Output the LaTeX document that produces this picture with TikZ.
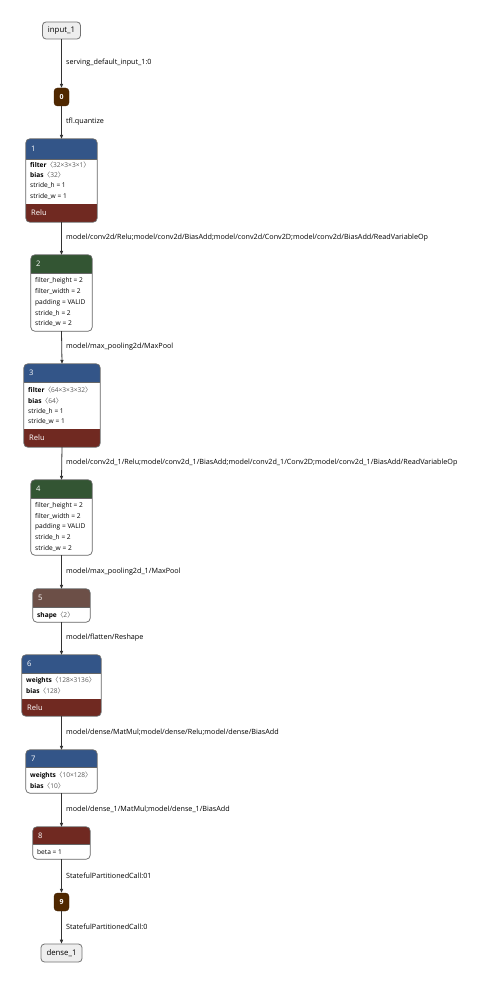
\documentclass[tikz,border=0pt]{standalone}
\usepackage{fontspec}
\setmainfont{Open Sans}
\newfontfamily\cjkf{Noto Sans CJK SC}
\usetikzlibrary{arrows.meta}
\definecolor{layer}{RGB}{51,85,136}
\definecolor{actv}{RGB}{112,41,33}
\definecolor{pool}{RGB}{51,85,51}
\definecolor{shp}{RGB}{108,79,71}
\definecolor{quant}{RGB}{80,40,0}
\definecolor{iofill}{RGB}{238,238,238}
\definecolor{valgray}{RGB}{90,90,90}
\newcommand\lb{{\cjkf 〈}}
\newcommand\rb{{\cjkf 〉}}
\tikzset{
  io/.style={draw=black!55, fill=iofill, rounded corners=3.5pt, line width=0.8pt, inner sep=0pt, font=\fontsize{7.8}{9}\selectfont},
  quantbox/.style={fill=quant, draw=quant!80!black, rounded corners=3.5pt, text=white, inner sep=0pt, font=\fontsize{7}{8}\selectfont\bfseries},
  frame/.style={inner sep=0pt, draw=none},
  border/.style={draw=black!60, line width=0.7pt, rounded corners=4pt},
  sep/.style={draw=black!60, line width=0.5pt},
  hdr/.style={anchor=west, text=white, inner sep=0pt, font=\fontsize{7.6}{9}\selectfont},
  attr/.style={anchor=west, inner sep=0pt, font=\fontsize{6.6}{7}\selectfont},
  elabel/.style={anchor=west, inner sep=0pt, font=\fontsize{7.2}{8}\selectfont},
  edge/.style={draw=black!80, line width=0.8pt, -{Triangle[length=4pt,width=3.2pt]}},
}
\newcommand\val[1]{{\color{valgray}#1}}
\begin{document}
\begin{tikzpicture}[x=1pt,y=-1pt]
\useasboundingbox[fill=white] (0,0) rectangle (482,984);

% input / output / quant nodes
\node[io, minimum width=38pt, minimum height=17pt] (in1) at (61.5,30.5) {input\_1};
\node[quantbox, minimum width=15pt, minimum height=18pt] (n0) at (61.5,97) {0};
\node[quantbox, minimum width=15pt, minimum height=18pt] (n9) at (61.5,902) {9};
\node[io, minimum width=41pt, minimum height=18pt] (out1) at (61.5,953) {dense\_1};

% ---- node 1
\node[frame, minimum width=71pt, minimum height=83pt] (n1) at (61.5,180.5) {};
\begin{scope}
\clip[rounded corners=4pt] (n1.north west) rectangle (n1.south east);
\fill[white] (n1.north west) rectangle (n1.south east);
\fill[layer] (n1.north west) rectangle (97,159);
\fill[actv] (26,204) rectangle (n1.south east);
\end{scope}
\draw[sep] (26,159) -- (97,159);
\draw[border] (n1.north west) rectangle (n1.south east);
\node[hdr] (n1h) at (31,149) {1};
\node[attr] (n1a) at (30,164.5) {\textbf{filter}\val{\lb32×3×3×1\rb}};
\node[attr] (n1b) at (30,175.3) {\textbf{bias}\val{\lb32\rb}};
\node[attr] (n1c) at (30,186) {stride\_h = 1};
\node[attr] (n1d) at (30,196.8) {stride\_w = 1};
\node[hdr] (n1r) at (31,213) {Relu};

% ---- node 2
\node[frame, minimum width=61pt, minimum height=76pt] (n2) at (61.5,293) {};
\begin{scope}
\clip[rounded corners=4pt] (n2.north west) rectangle (n2.south east);
\fill[white] (n2.north west) rectangle (n2.south east);
\fill[pool] (n2.north west) rectangle (92,273);
\end{scope}
\draw[sep] (31,273) -- (92,273);
\draw[border] (n2.north west) rectangle (n2.south east);
\node[hdr] (n2h) at (36,264) {2};
\node[attr] (n2a) at (35,281) {filter\_height = 2};
\node[attr] (n2b) at (35,291.7) {filter\_width = 2};
\node[attr] (n2c) at (35,302.4) {padding = VALID};
\node[attr] (n2d) at (35,313.1) {stride\_h = 2};
\node[attr] (n2e) at (35,323.8) {stride\_w = 2};

% ---- node 3
\node[frame, minimum width=76pt, minimum height=83pt] (n3) at (62,405.5) {};
\begin{scope}
\clip[rounded corners=4pt] (n3.north west) rectangle (n3.south east);
\fill[white] (n3.north west) rectangle (n3.south east);
\fill[layer] (n3.north west) rectangle (100,382);
\fill[actv] (24,429) rectangle (n3.south east);
\end{scope}
\draw[sep] (24,382) -- (100,382);
\draw[border] (n3.north west) rectangle (n3.south east);
\node[hdr] (n3h) at (29,373) {3};
\node[attr] (n3a) at (28,390) {\textbf{filter}\val{\lb64×3×3×32\rb}};
\node[attr] (n3b) at (28,400.5) {\textbf{bias}\val{\lb64\rb}};
\node[attr] (n3c) at (28,411) {stride\_h = 1};
\node[attr] (n3d) at (28,421.5) {stride\_w = 1};
\node[hdr] (n3r) at (29,438) {Relu};

% ---- node 4
\node[frame, minimum width=61pt, minimum height=75pt] (n4) at (61.5,517.5) {};
\begin{scope}
\clip[rounded corners=4pt] (n4.north west) rectangle (n4.south east);
\fill[white] (n4.north west) rectangle (n4.south east);
\fill[pool] (n4.north west) rectangle (92,498);
\end{scope}
\draw[sep] (31,498) -- (92,498);
\draw[border] (n4.north west) rectangle (n4.south east);
\node[hdr] (n4h) at (36,489) {4};
\node[attr] (n4a) at (35,505.5) {filter\_height = 2};
\node[attr] (n4b) at (35,516.2) {filter\_width = 2};
\node[attr] (n4c) at (35,526.9) {padding = VALID};
\node[attr] (n4d) at (35,537.6) {stride\_h = 2};
\node[attr] (n4e) at (35,548.3) {stride\_w = 2};

% ---- node 5
\node[frame, minimum width=57pt, minimum height=33pt] (n5) at (61.5,605.5) {};
\begin{scope}
\clip[rounded corners=4pt] (n5.north west) rectangle (n5.south east);
\fill[white] (n5.north west) rectangle (n5.south east);
\fill[shp] (n5.north west) rectangle (90,607);
\end{scope}
\draw[sep] (33,607) -- (90,607);
\draw[border] (n5.north west) rectangle (n5.south east);
\node[hdr] (n5h) at (38,598) {5};
\node[attr] (n5a) at (37,615) {\textbf{shape}\val{\lb2\rb}};

% ---- node 6
\node[frame, minimum width=79pt, minimum height=61pt] (n6) at (61.5,685.5) {};
\begin{scope}
\clip[rounded corners=4pt] (n6.north west) rectangle (n6.south east);
\fill[white] (n6.north west) rectangle (n6.south east);
\fill[layer] (n6.north west) rectangle (101,673);
\fill[actv] (22,699) rectangle (n6.south east);
\end{scope}
\draw[sep] (22,673) -- (101,673);
\draw[border] (n6.north west) rectangle (n6.south east);
\node[hdr] (n6h) at (27,664) {6};
\node[attr] (n6a) at (26,680.5) {\textbf{weights}\val{\lb128×3136\rb}};
\node[attr] (n6b) at (26,691.2) {\textbf{bias}\val{\lb128\rb}};
\node[hdr] (n6r) at (27,708) {Relu};

% ---- node 7
\node[frame, minimum width=71pt, minimum height=43pt] (n7) at (61.5,771.5) {};
\begin{scope}
\clip[rounded corners=4pt] (n7.north west) rectangle (n7.south east);
\fill[white] (n7.north west) rectangle (n7.south east);
\fill[layer] (n7.north west) rectangle (97,767);
\end{scope}
\draw[sep] (26,767) -- (97,767);
\draw[border] (n7.north west) rectangle (n7.south east);
\node[hdr] (n7h) at (31,758.5) {7};
\node[attr] (n7a) at (30,775.5) {\textbf{weights}\val{\lb10×128\rb}};
\node[attr] (n7b) at (30,786) {\textbf{bias}\val{\lb10\rb}};

% ---- node 8
\node[frame, minimum width=57pt, minimum height=32pt] (n8) at (61.5,843) {};
\begin{scope}
\clip[rounded corners=4pt] (n8.north west) rectangle (n8.south east);
\fill[white] (n8.north west) rectangle (n8.south east);
\fill[actv] (n8.north west) rectangle (90,844);
\end{scope}
\draw[sep] (33,844) -- (90,844);
\draw[border] (n8.north west) rectangle (n8.south east);
\node[hdr] (n8h) at (38,835.5) {8};
\node[attr] (n8a) at (37,852) {beta = 1};

% ---- edges
\draw[edge] (in1) -- (n0);
\draw[edge] (n0) -- (n1.north);
\draw[edge] (n1.south) -- (n2.north);
\draw[edge] (n2.south) -- (n3.north);
\draw[edge] (n3.south) -- (n4.north);
\draw[edge] (n4.south) -- (n5.north);
\draw[edge] (n5.south) -- (n6.north);
\draw[edge] (n6.south) -- (n7.north);
\draw[edge] (n7.south) -- (n8.north);
\draw[edge] (n8.south) -- (n9);
\draw[edge] (n9) -- (out1);

% ---- edge labels
\node[elabel] (e0) at (66,63) {serving\_default\_input\_1:0};
\node[elabel] (e1) at (66,122) {tfl.quantize};
\node[elabel] (e2) at (66,238) {model/conv2d/Relu;model/conv2d/BiasAdd;model/conv2d/Conv2D;model/conv2d/BiasAdd/ReadVariableOp};
\node[elabel] (e3) at (66,347) {model/max\_pooling2d/MaxPool};
\node[elabel] (e4) at (66,463) {model/conv2d\_1/Relu;model/conv2d\_1/BiasAdd;model/conv2d\_1/Conv2D;model/conv2d\_1/BiasAdd/ReadVariableOp};
\node[elabel] (e5) at (66,572) {model/max\_pooling2d\_1/MaxPool};
\node[elabel] (e6) at (66,638) {model/flatten/Reshape};
\node[elabel] (e7) at (66,732) {model/dense/MatMul;model/dense/Relu;model/dense/BiasAdd};
\node[elabel] (e8) at (66,809) {model/dense\_1/MatMul;model/dense\_1/BiasAdd};
\node[elabel] (e9) at (66,876) {StatefulPartitionedCall:01};
\node[elabel] (e10) at (66,927) {StatefulPartitionedCall:0};
\end{tikzpicture}
\end{document}
